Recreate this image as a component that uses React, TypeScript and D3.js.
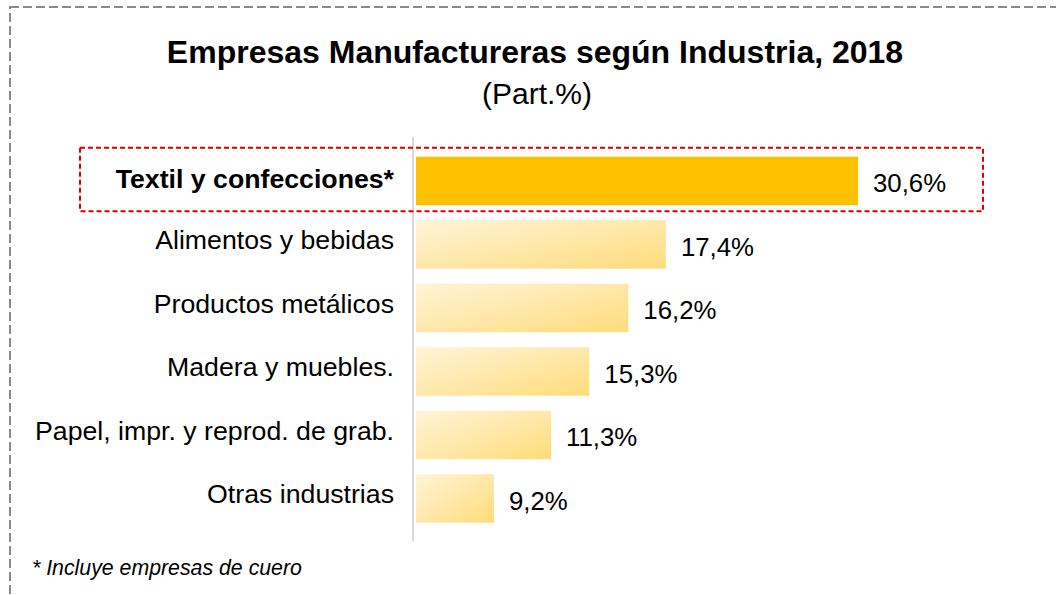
import * as d3 from 'd3';

const WIDTH = 1056;
const HEIGHT = 595;
const FONT = '"Liberation Sans", Arial, sans-serif';

const categories = [
  'Textil y confecciones*',
  'Alimentos y bebidas',
  'Productos metálicos',
  'Madera y muebles.',
  'Papel, impr. y reprod. de grab.',
  'Otras industrias',
];
// share labels as printed
const shares = [30.6, 17.4, 16.2, 15.3, 11.3, 9.2];
// bar lengths as drawn in the picture (same units as the top bar)
const barLengths = [30.6, 17.3, 14.7, 12.0, 9.35, 5.4];
const highlighted = 'Textil y confecciones*';

const fmt = (v: number) => v.toFixed(1).replace('.', ',') + '%';

export default function App() {
  const x = d3.scaleLinear().domain([0, 30.6]).range([416, 858]);
  const y = d3.scaleBand<string>()
    .domain(categories)
    .range([149.2, 530.2])
    .paddingInner(0.236)
    .paddingOuter(0.118);
  const bw = y.bandwidth();
  const [r0, r1] = y.range();
  const hy = y(highlighted) as number;

  return (
    <svg width={WIDTH} height={HEIGHT}
      style={{ position: 'absolute', left: 0, top: 0, background: '#fff' }}
      fontFamily={FONT}>
      <defs>
        <linearGradient id="lightBar" x1="0" y1="0" x2="1" y2="1">
          <stop offset="0" stopColor="#fff4da" />
          <stop offset="1" stopColor="#ffdc7a" />
        </linearGradient>
      </defs>

      {/* outer dashed frame */}
      <rect x={10} y={7} width={WIDTH + 20} height={HEIGHT + 20}
        fill="none" stroke="#8a8a8a" strokeWidth={2} strokeDasharray="9,4" />

      <text x={535} y={63} textAnchor="middle" fontSize={32} fontWeight="bold" fill="#000">
        Empresas Manufactureras según Industria, 2018
      </text>
      <text x={537} y={104} textAnchor="middle" fontSize={30} fill="#000">(Part.%)</text>

      {/* axis line */}
      <line x1={x(0) - 3} x2={x(0) - 3} y1={r0 - 12} y2={r1 + 11}
        stroke="#d9d9d9" strokeWidth={2} />

      {categories.map((c, i) => {
        const top = y(c) as number;
        const hi = c === highlighted;
        return (
          <g key={c}>
            <rect x={x(0)} y={top} width={x(barLengths[i]) - x(0)} height={bw}
              fill={hi ? '#ffc000' : 'url(#lightBar)'} />
            <text x={394} y={top + bw / 2 + (hi ? 7.5 : 5)} textAnchor="end"
              fontSize={26.7} fontWeight={hi ? 'bold' : 'normal'} fill="#000">
              {c}
            </text>
            <text x={x(barLengths[i]) + 15} y={top + bw / 2 + 11.5}
              fontSize={25.8} fill="#000">
              {fmt(shares[i])}
            </text>
          </g>
        );
      })}

      {/* highlight box */}
      <rect x={80} y={hy - 9} width={903} height={bw + 15}
        fill="none" stroke="#e00000" strokeWidth={2} strokeDasharray="5,3" />

      <text x={32} y={575} fontSize={21.3} fontStyle="italic" fill="#000">
        * Incluye empresas de cuero
      </text>
    </svg>
  );
}
